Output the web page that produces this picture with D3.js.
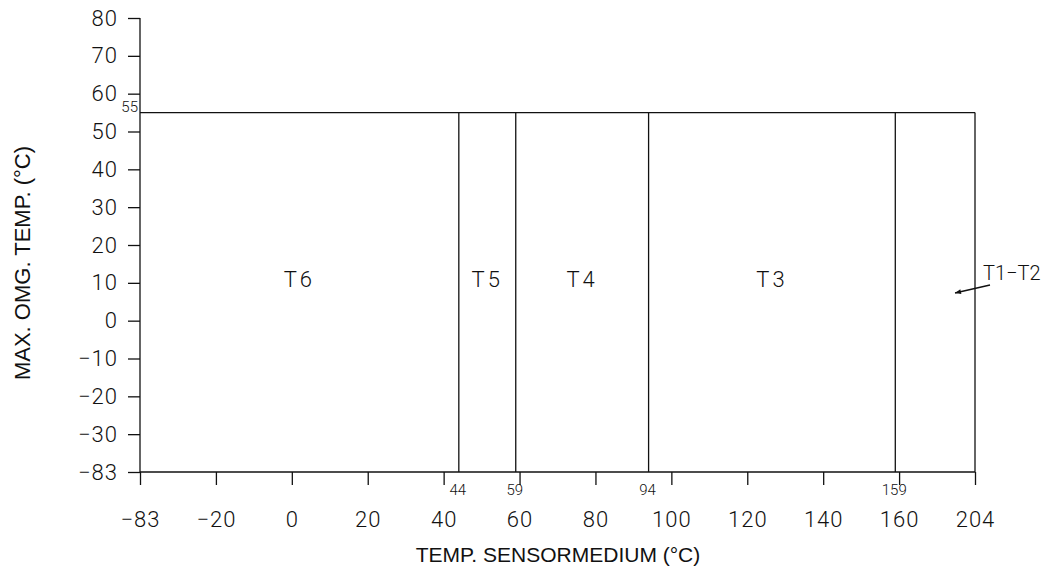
<!DOCTYPE html>
<html>
<head>
<meta charset="utf-8">
<script src="https://cdn.jsdelivr.net/npm/d3@7"></script>
<style>
  html, body { margin: 0; padding: 0; background: #fff; }
  svg { display: block; }
  text { fill: #111; }
  .cad { font-family: Roboto, "DejaVu Sans", sans-serif; font-weight: 300; }
  .title { font-family: "Liberation Sans", Arial, sans-serif; }
</style>
</head>
<body>
<svg id="chart" width="1046" height="571"></svg>
<script>
// Axis tick values (evenly spaced on the drawing, piecewise-linear between them)
const xTicks = [-83, -20, 0, 20, 40, 60, 80, 100, 120, 140, 160, 204];
const yTicks = [-83, -30, -20, -10, 0, 10, 20, 30, 40, 50, 60, 70, 80];

// Temperature class boundaries (sensor medium temperature, °C)
const boundaries = [44, 59, 94, 159];
const classEdges = [-83, 44, 59, 94, 159, 204];
const classNames = ["T6", "T5", "T4", "T3", "T1−T2"];

// Maximum ambient temperature limit
const maxAmbient = 55;

const svg = d3.select("#chart");
const plotLeft = 140, plotRight = 975, plotTop = 18, plotBottom = 472;

const x = d3.scaleLinear()
  .domain(xTicks)
  .range(xTicks.map((d, i) => plotLeft + (plotRight - plotLeft) * i / (xTicks.length - 1)));
const y = d3.scaleLinear()
  .domain(yTicks)
  .range(yTicks.map((d, i) => plotBottom - (plotBottom - plotTop) * i / (yTicks.length - 1)));

const fmt = d => d < 0 ? "\u2212" + Math.abs(d) : String(d);
const stroke = "#111";

// Y axis
const yAxis = svg.append("g")
  .attr("transform", `translate(${plotLeft},0)`)
  .call(d3.axisLeft(y).tickValues(yTicks).tickFormat(fmt).tickSize(12).tickPadding(10));
// X axis
const xAxis = svg.append("g")
  .attr("transform", `translate(0,${plotBottom})`)
  .call(d3.axisBottom(x).tickValues(xTicks).tickFormat(fmt).tickSize(13).tickPadding(26));

[yAxis, xAxis].forEach(g => {
  g.select(".domain").remove();
  g.attr("font-family", null).attr("font-size", null);
  g.selectAll(".tick line").attr("stroke", stroke).attr("stroke-width", 1.3);
  g.selectAll(".tick text").attr("class", "cad")
    .style("font-size", "22px").style("letter-spacing", "1px").attr("fill", "#111");
});

// Axis lines
svg.append("line").attr("x1", plotLeft).attr("x2", plotLeft).attr("y1", plotTop).attr("y2", plotBottom)
  .attr("stroke", stroke).attr("stroke-width", 1.3);
svg.append("line").attr("x1", plotLeft).attr("x2", plotRight).attr("y1", plotBottom).attr("y2", plotBottom)
  .attr("stroke", stroke).attr("stroke-width", 1.3);

// Ambient limit line and right border
svg.append("line").attr("x1", plotLeft).attr("x2", x(204)).attr("y1", y(maxAmbient)).attr("y2", y(maxAmbient))
  .attr("stroke", stroke).attr("stroke-width", 1.3);
svg.append("line").attr("x1", x(204)).attr("x2", x(204)).attr("y1", y(maxAmbient)).attr("y2", plotBottom)
  .attr("stroke", stroke).attr("stroke-width", 1.3);
svg.append("text").attr("class", "cad").attr("x", plotLeft - 2).attr("y", y(maxAmbient) - 1)
  .attr("text-anchor", "end").style("font-size", "15px").text(maxAmbient);

// Class boundary lines with their values below the axis
boundaries.forEach(b => {
  svg.append("line").attr("x1", x(b)).attr("x2", x(b)).attr("y1", y(maxAmbient)).attr("y2", plotBottom)
    .attr("stroke", stroke).attr("stroke-width", 1.3);
  svg.append("text").attr("class", "cad").attr("x", x(b) - 1).attr("y", plotBottom + 23)
    .attr("text-anchor", "middle").style("font-size", "15px").text(b);
});

// Temperature class labels
const labelY = y(10) - 3;
classNames.forEach((name, i) => {
  if (i === classNames.length - 1) return;
  const cx = (x(classEdges[i]) + x(classEdges[i + 1])) / 2;
  svg.append("text").attr("class", "cad").attr("x", cx).attr("y", labelY + 7)
    .attr("text-anchor", "middle").style("font-size", "22px").style("letter-spacing", "3px").text(name);
});

// T1–T2 label outside the frame with a pointer arrow
svg.append("defs").append("marker")
  .attr("id", "arrow").attr("viewBox", "0 0 10 10").attr("refX", 10).attr("refY", 5)
  .attr("markerWidth", 14).attr("markerHeight", 6).attr("markerUnits", "userSpaceOnUse")
  .attr("orient", "auto")
  .append("path").attr("d", "M0,1 L10,5 L0,9 Z").attr("fill", stroke);
svg.append("text").attr("class", "cad").attr("x", 983).attr("y", labelY)
  .style("font-size", "20px").text(classNames[4]);
svg.append("line").attr("x1", 990).attr("y1", 285).attr("x2", 955).attr("y2", 293)
  .attr("stroke", stroke).attr("stroke-width", 1.3).attr("marker-end", "url(#arrow)");

// Axis titles
svg.append("text").attr("class", "title")
  .attr("transform", `translate(30,${(plotTop + plotBottom) / 2 + 18}) rotate(-90)`)
  .attr("text-anchor", "middle").style("font-size", "22px").text("MAX. OMG. TEMP. (°C)");
svg.append("text").attr("class", "title").attr("x", 558).attr("y", 562)
  .attr("text-anchor", "middle").style("font-size", "21px").text("TEMP. SENSORMEDIUM (°C)");
</script>
</body>
</html>
